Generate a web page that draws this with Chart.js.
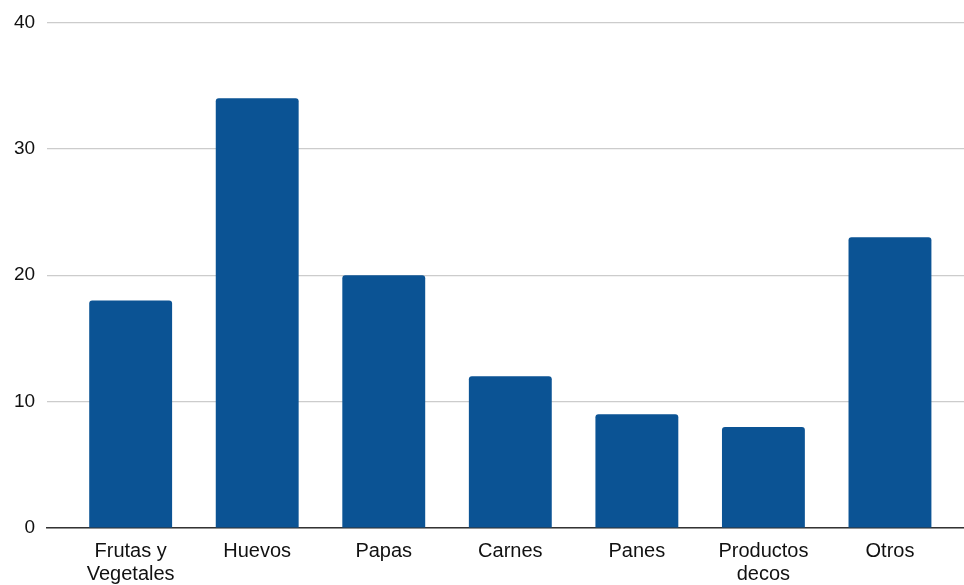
<!DOCTYPE html>
<html>
<head>
<meta charset="utf-8">
<script src="https://cdn.jsdelivr.net/npm/chart.js@4/dist/chart.umd.min.js"></script>
<style>
  html, body { margin: 0; padding: 0; background: #fff; }
  #wrap { width: 964px; height: 585px; position: relative; }
</style>
</head>
<body>
<div id="wrap"><canvas id="chart"></canvas></div>
<script>
// Categorías y valores
const categorias = [
    ['Frutas y', 'Vegetales'],
    'Huevos',
    'Papas',
    'Carnes',
    'Panes',
    ['Productos', 'decos'],
    'Otros'
];
const valores = [18, 34, 20, 12, 9, 8, 23];
const ticksY = [0, 10, 20, 30, 40];

const azul = '#0b5394';

// Eje x lineal para dejar margen a la izquierda de la primera barra
const puntos = valores.map((v, i) => ({ x: i, y: v }));

new Chart(document.getElementById('chart'), {
    type: 'bar',
    data: {
        datasets: [{
            data: puntos,
            backgroundColor: azul,
            borderRadius: { topLeft: 3, topRight: 3 },
            borderSkipped: 'bottom',
            barPercentage: 0.655,
            categoryPercentage: 1
        }]
    },
    options: {
        responsive: true,
        maintainAspectRatio: false,
        animation: false,
        layout: { padding: { top: 0, right: 0, left: 2, bottom: -13 } },
        plugins: {
            legend: { display: false },
            tooltip: { enabled: false }
        },
        scales: {
            x: {
                type: 'linear',
                offset: false,
                min: -0.66,
                max: 6.585,
                afterBuildTicks: (axis) => {
                    axis.ticks = categorias.map((_, i) => ({ value: i }));
                },
                grid: { display: false, drawTicks: false },
                border: { display: true, color: '#333', width: 1.5 },
                ticks: {
                    autoSkip: false,
                    maxRotation: 0,
                    padding: 12,
                    color: '#111',
                    font: { family: 'Liberation Sans, Arial, sans-serif', size: 20, lineHeight: 1.15 },
                    callback: (v) => categorias[v]
                }
            },
            y: {
                min: 0,
                max: 40,
                afterBuildTicks: (axis) => {
                    axis.ticks = ticksY.map(v => ({ value: v }));
                },
                grid: { color: '#cccccc', lineWidth: 1.2, drawTicks: false },
                border: { display: false },
                ticks: {
                    padding: 12,
                    color: '#111',
                    font: { family: 'Liberation Sans, Arial, sans-serif', size: 19, lineHeight: 1.1 }
                }
            }
        }
    }
});
</script>
</body>
</html>
